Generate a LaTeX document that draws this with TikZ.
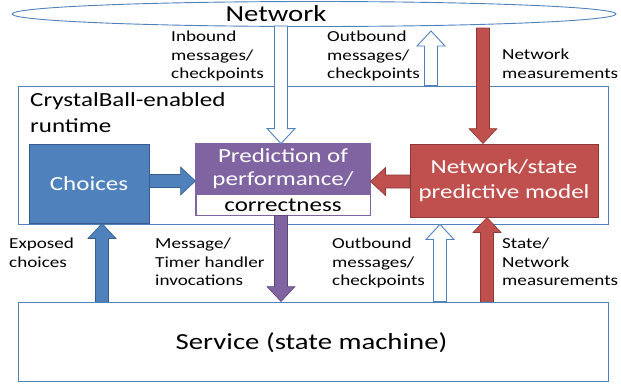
\documentclass[tikz,border=0pt]{standalone}
\usepackage{fontspec}
\setmainfont{Carlito}[FakeStretch=1.25]
\usetikzlibrary{calc,shapes.geometric}
\definecolor{oblue}{HTML}{4F81BD}
\definecolor{dblue}{HTML}{385D8A}
\definecolor{opurple}{HTML}{8064A2}
\definecolor{dpurple}{HTML}{5C4776}
\definecolor{ored}{HTML}{C0504D}
\definecolor{dred}{HTML}{8C3836}
\newcommand{\barrow}[3]{%
  \coordinate (bah) at ($(#3)!15pt!(#2)$);
  \path[#1] ($(#2)!6.5pt!90:(#3)$) -- ($(bah)!6.5pt!90:(#3)$) -- ($(bah)!14pt!90:(#3)$) -- (#3)
    -- ($(bah)!14pt!-90:(#3)$) -- ($(bah)!6.5pt!-90:(#3)$) -- ($(#2)!6.5pt!-90:(#3)$) -- cycle;}
\begin{document}
\begin{tikzpicture}[x=1pt,y=-1pt,
  frame/.style={draw=oblue,line width=0.9pt,fill=white},
  lbl/.style={font=\fontsize{15.3}{18.5}\selectfont,align=left,anchor=north west,inner sep=0pt,text=black},
  hollow/.style={draw=oblue,line width=0.9pt,fill=white},
  bluearr/.style={fill=oblue,draw=dblue,line width=0.6pt},
  redarr/.style={fill=ored,draw=dred,line width=0.6pt},
  purparr/.style={fill=opurple,draw=dpurple,line width=0.6pt},
  box/.style={minimum width=#1,inner sep=0pt,line width=0.9pt,font=\fontsize{20}{25}\selectfont,align=center}
]
\useasboundingbox (0,0) rectangle (621,383);
% frames
\node[frame,minimum width=590,minimum height=138,inner sep=0pt] (rt) at (313,155) {};
\node[lbl,font=\fontsize{20}{26}\selectfont] (rtl) at (30,92) {CrystalBall-enabled\\runtime};
\node[frame,minimum width=590,minimum height=79,inner sep=0pt] (svc) at (313,341.5) {};
\node[font=\fontsize{23}{26}\selectfont,inner sep=0pt] (svct) at (311.5,343) {Service (state machine)};
\node[ellipse,draw=oblue,line width=0.9pt,fill=white,minimum width=604,minimum height=25,inner sep=0pt] (net) at (314,14) {};
\node[font=\fontsize{23}{26}\selectfont,inner sep=0pt] (nett) at (276,14) {Network};
% inner boxes
\node[box=120,minimum height=79,fill=oblue,draw=dblue,text=white] (ch) at (89,183.5) {Choices};
\node[box=174,minimum height=71,draw=opurple,fill=white] (pred) at (283,179.5) {};
\fill[opurple] (pred.north west) rectangle ($(pred.north east)+(0,51)$);
\draw[opurple,line width=0.9pt] (pred.north west) rectangle (pred.south east);
\node[font=\fontsize{20}{23}\selectfont,text=white,align=center,inner sep=0pt] (predt) at (283,169) {Prediction of\\performance/};
\node[font=\fontsize{20}{23}\selectfont,text=black,inner sep=0pt] (predb) at (283,205) {correctness};
\node[box=188,minimum height=73,fill=ored,draw=dred,text=white] (ns) at (504,180.5) {Network/state\\predictive model};
% x positions
\coordinate (xin) at (281,0);
\coordinate (xout) at (431,0);
\coordinate (xnm) at (483,0);
\coordinate (xex) at (102,0);
\coordinate (xmt) at (281,0);
\coordinate (xob) at (440,0);
\coordinate (xsn) at (487,0);
% arrows
\barrow{hollow}{xin |- 0,26}{xin |- pred.north}
\barrow{hollow}{xout |- rt.north}{xout |- 0,31}
\barrow{redarr}{xnm |- 0,28}{xnm |- ns.north}
\barrow{bluearr}{ch.east |- 0,181}{pred.west |- 0,181}
\barrow{redarr}{ns.west |- 0,181.5}{pred.east |- 0,181.5}
\barrow{bluearr}{xex |- svc.north}{xex |- ch.south}
\barrow{purparr}{xmt |- pred.south}{xmt |- svc.north}
\barrow{hollow}{xob |- svc.north}{xob |- rt.south}
\barrow{redarr}{xsn |- svc.north}{xsn |- ns.south}
% labels
\node[lbl] (l1) at (171,31) {Inbound\\messages/\\checkpoints};
\node[lbl] (l2) at (327,31) {Outbound\\messages/\\checkpoints};
\node[lbl] (l3) at (502,49) {Network\\measurements};
\node[lbl] (l4) at (9,238) {Exposed\\choices};
\node[lbl] (l5) at (155,238) {Message/\\Timer handler\\invocations};
\node[lbl] (l6) at (332,238) {Outbound\\messages/\\checkpoints};
\node[lbl] (l7) at (502,238) {State/\\Network\\measurements};
\end{tikzpicture}
\end{document}
